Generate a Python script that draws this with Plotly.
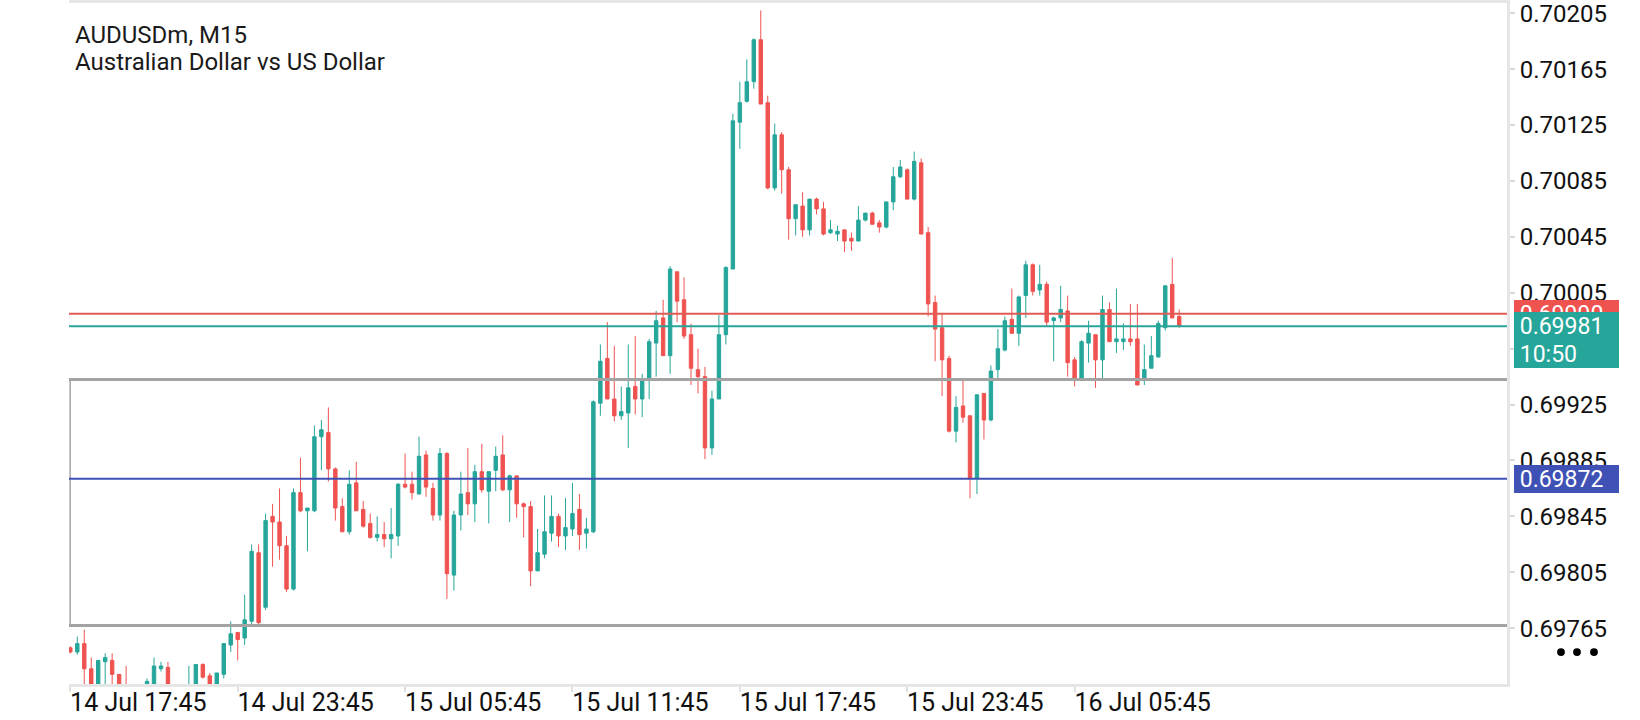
import pandas as pd
import plotly.graph_objects as go

# AUDUSDm M15 candles (bar 0 = 14 Jul 17:45)
opens = [
    0.69751, 0.69748, 0.69754, 0.69736, 0.69714, 0.69741, 0.69742, 0.69732, 0.69720, 0.69712,
    0.69707, 0.69714, 0.69722, 0.69736, 0.69737, 0.69716, 0.69710, 0.69714, 0.69722, 0.69739,
    0.69731, 0.69720, 0.69732, 0.69753, 0.69762, 0.69758, 0.69770, 0.69819, 0.69780, 0.69845,
    0.69841, 0.69824, 0.69793, 0.69862, 0.69849, 0.69849, 0.69902, 0.69905, 0.69879, 0.69852,
    0.69834, 0.69869, 0.69850, 0.69840, 0.69830, 0.69832, 0.69829, 0.69831, 0.69868, 0.69868,
    0.69861, 0.69889, 0.69865, 0.69846, 0.69890, 0.69803, 0.69846, 0.69862, 0.69854, 0.69877,
    0.69863, 0.69878, 0.69889, 0.69864, 0.69874, 0.69854, 0.69852, 0.69806, 0.69818, 0.69833,
    0.69845, 0.69831, 0.69836, 0.69850, 0.69833, 0.69834, 0.69926, 0.69958, 0.69929, 0.69917,
    0.69919, 0.69938, 0.69929, 0.69944, 0.69969, 0.69987, 0.69960, 0.70020, 0.70000, 0.69975,
    0.69950, 0.69945, 0.69894, 0.69929, 0.69975, 0.70022, 0.70127, 0.70142, 0.70156, 0.70186,
    0.70141, 0.70080, 0.70118, 0.70093, 0.70058, 0.70067, 0.70050, 0.70072, 0.70065, 0.70048,
    0.70047, 0.70050, 0.70044, 0.70042, 0.70057, 0.70062, 0.70055, 0.70052, 0.70070, 0.70088,
    0.70093, 0.70072, 0.70098, 0.70048, 0.69998, 0.69980, 0.69958, 0.69906, 0.69924, 0.69917,
    0.69872, 0.69933, 0.69914, 0.69950, 0.69964, 0.69986, 0.69976, 0.70003, 0.70025, 0.70007,
    0.70011, 0.69985, 0.69987, 0.69992, 0.69957, 0.69944, 0.69969, 0.69975, 0.69957, 0.69993,
    0.69970, 0.69970, 0.69972, 0.69972, 0.69943, 0.69951, 0.69959, 0.69980, 0.70011, 0.69988,
]
highs = [
    0.69752, 0.69759, 0.69764, 0.69744, 0.69742, 0.69747, 0.69747, 0.69732, 0.69738, 0.69720,
    0.69718, 0.69729, 0.69744, 0.69741, 0.69741, 0.69722, 0.69724, 0.69738, 0.69739, 0.69740,
    0.69733, 0.69733, 0.69754, 0.69770, 0.69762, 0.69789, 0.69825, 0.69825, 0.69847, 0.69854,
    0.69865, 0.69831, 0.69865, 0.69887, 0.69851, 0.69910, 0.69914, 0.69923, 0.69880, 0.69858,
    0.69878, 0.69884, 0.69856, 0.69847, 0.69845, 0.69841, 0.69851, 0.69869, 0.69890, 0.69877,
    0.69902, 0.69892, 0.69869, 0.69894, 0.69891, 0.69849, 0.69877, 0.69894, 0.69882, 0.69897,
    0.69877, 0.69895, 0.69903, 0.69875, 0.69874, 0.69855, 0.69856, 0.69836, 0.69860, 0.69860,
    0.69847, 0.69858, 0.69869, 0.69861, 0.69844, 0.69928, 0.69968, 0.69984, 0.69967, 0.69938,
    0.69968, 0.69974, 0.69947, 0.69972, 0.69992, 0.70000, 0.70024, 0.70020, 0.70016, 0.69983,
    0.69965, 0.69952, 0.69935, 0.69989, 0.70024, 0.70133, 0.70156, 0.70172, 0.70187, 0.70207,
    0.70146, 0.70126, 0.70120, 0.70095, 0.70068, 0.70077, 0.70072, 0.70073, 0.70070, 0.70057,
    0.70053, 0.70050, 0.70048, 0.70067, 0.70062, 0.70063, 0.70057, 0.70070, 0.70095, 0.70100,
    0.70094, 0.70106, 0.70101, 0.70052, 0.70003, 0.69990, 0.69960, 0.69931, 0.69942, 0.69917,
    0.69932, 0.69933, 0.69953, 0.69979, 0.69988, 0.70008, 0.70003, 0.70028, 0.70026, 0.70025,
    0.70013, 0.69988, 0.70010, 0.70003, 0.69959, 0.69971, 0.69985, 0.69975, 0.70003, 0.69998,
    0.70008, 0.69983, 0.69997, 0.69997, 0.69968, 0.69974, 0.69985, 0.70010, 0.70030, 0.69993,
]
lows = [
    0.69747, 0.69746, 0.69719, 0.69708, 0.69710, 0.69716, 0.69722, 0.69712, 0.69706, 0.69703,
    0.69700, 0.69710, 0.69718, 0.69734, 0.69712, 0.69706, 0.69704, 0.69710, 0.69718, 0.69729,
    0.69716, 0.69716, 0.69729, 0.69748, 0.69742, 0.69753, 0.69768, 0.69766, 0.69778, 0.69809,
    0.69814, 0.69791, 0.69792, 0.69848, 0.69820, 0.69848, 0.69878, 0.69870, 0.69842, 0.69834,
    0.69832, 0.69849, 0.69837, 0.69829, 0.69827, 0.69823, 0.69815, 0.69824, 0.69865, 0.69857,
    0.69861, 0.69859, 0.69842, 0.69842, 0.69786, 0.69792, 0.69835, 0.69846, 0.69841, 0.69862,
    0.69840, 0.69863, 0.69863, 0.69841, 0.69844, 0.69830, 0.69795, 0.69806, 0.69815, 0.69827,
    0.69823, 0.69821, 0.69831, 0.69821, 0.69822, 0.69833, 0.69917, 0.69929, 0.69913, 0.69914,
    0.69894, 0.69918, 0.69916, 0.69929, 0.69945, 0.69960, 0.69947, 0.69984, 0.69972, 0.69939,
    0.69933, 0.69886, 0.69889, 0.69929, 0.69968, 0.70022, 0.70108, 0.70141, 0.70151, 0.70140,
    0.70079, 0.70078, 0.70076, 0.70043, 0.70046, 0.70045, 0.70046, 0.70061, 0.70046, 0.70047,
    0.70042, 0.70034, 0.70035, 0.70042, 0.70056, 0.70054, 0.70048, 0.70051, 0.70064, 0.70087,
    0.70072, 0.70071, 0.70047, 0.69988, 0.69956, 0.69931, 0.69905, 0.69898, 0.69912, 0.69858,
    0.69861, 0.69900, 0.69913, 0.69944, 0.69963, 0.69976, 0.69967, 0.69987, 0.70003, 0.70003,
    0.69981, 0.69956, 0.69984, 0.69945, 0.69938, 0.69944, 0.69955, 0.69937, 0.69944, 0.69970,
    0.69962, 0.69964, 0.69967, 0.69939, 0.69939, 0.69951, 0.69959, 0.69978, 0.69987, 0.69980,
]
closes = [
    0.69748, 0.69754, 0.69736, 0.69712, 0.69742, 0.69744, 0.69732, 0.69716, 0.69712, 0.69707,
    0.69714, 0.69727, 0.69738, 0.69738, 0.69716, 0.69710, 0.69720, 0.69724, 0.69739, 0.69730,
    0.69720, 0.69733, 0.69754, 0.69761, 0.69757, 0.69771, 0.69820, 0.69769, 0.69842, 0.69841,
    0.69824, 0.69793, 0.69862, 0.69849, 0.69851, 0.69902, 0.69907, 0.69879, 0.69851, 0.69834,
    0.69868, 0.69849, 0.69838, 0.69830, 0.69832, 0.69829, 0.69832, 0.69868, 0.69866, 0.69862,
    0.69888, 0.69866, 0.69846, 0.69890, 0.69804, 0.69846, 0.69861, 0.69854, 0.69877, 0.69864,
    0.69877, 0.69888, 0.69864, 0.69874, 0.69854, 0.69852, 0.69806, 0.69819, 0.69834, 0.69845,
    0.69831, 0.69837, 0.69847, 0.69832, 0.69836, 0.69927, 0.69956, 0.69929, 0.69917, 0.69920,
    0.69937, 0.69929, 0.69942, 0.69970, 0.69985, 0.69960, 0.70022, 0.69999, 0.69974, 0.69951,
    0.69945, 0.69894, 0.69929, 0.69975, 0.70023, 0.70128, 0.70141, 0.70156, 0.70186, 0.70140,
    0.70080, 0.70118, 0.70093, 0.70058, 0.70068, 0.70050, 0.70072, 0.70065, 0.70047, 0.70050,
    0.70049, 0.70042, 0.70042, 0.70057, 0.70062, 0.70054, 0.70052, 0.70070, 0.70088, 0.70095,
    0.70072, 0.70099, 0.70047, 0.69997, 0.69979, 0.69957, 0.69906, 0.69923, 0.69916, 0.69872,
    0.69932, 0.69914, 0.69949, 0.69965, 0.69985, 0.69976, 0.70002, 0.70025, 0.70006, 0.70011,
    0.69984, 0.69987, 0.69993, 0.69955, 0.69944, 0.69970, 0.69976, 0.69957, 0.69993, 0.69970,
    0.69972, 0.69972, 0.69970, 0.69939, 0.69950, 0.69960, 0.69983, 0.70010, 0.69987, 0.69981,
]

first_bar = "2020-07-14 17:45"
times = pd.date_range(first_bar, periods=len(opens), freq="15min")

tick_times = ["2020-07-14 17:45", "2020-07-14 23:45", "2020-07-15 05:45", "2020-07-15 11:45",
              "2020-07-15 17:45", "2020-07-15 23:45", "2020-07-16 05:45"]
tick_labels = ["14 Jul 17:45", "14 Jul 23:45", "15 Jul 05:45", "15 Jul 11:45",
               "15 Jul 17:45", "15 Jul 23:45", "16 Jul 05:45"]
price_ticks = [0.69765, 0.69805, 0.69845, 0.69885, 0.69925, 0.69965,
               0.70005, 0.70045, 0.70085, 0.70125, 0.70165, 0.70205]

ask_price = 0.69990
bid_price = 0.69981
bar_timer = "10:50"
level_blue = 0.69872
box_top = 0.69943
box_bottom = 0.69767

TEAL = "#26a69a"
RED = "#ef5350"
BLUE = "#3f51b5"
GRAY = "#a3a3a3"
FRAME = "#e6e6e6"
FONT = "Roboto"

fig = go.Figure(go.Candlestick(
    x=times, open=opens, high=highs, low=lows, close=closes,
    increasing=dict(line=dict(color=TEAL, width=1), fillcolor=TEAL),
    decreasing=dict(line=dict(color=RED, width=1), fillcolor=RED),
    hoverinfo="skip",
))


def hline(y, color, width):
    return dict(type="line", xref="paper", x0=0, x1=1, yref="y", y0=y, y1=y,
                line=dict(color=color, width=width), layer="above")


def price_box(y, color, text, shift=0):
    # coloured price tag on the right scale; later tags cover earlier ones
    return dict(text="\u00a0" + text, xref="paper", x=1, xanchor="left", xshift=7,
                yref="y", y=y, yanchor="middle", yshift=shift,
                width=105, height=28, align="left", valign="middle",
                bgcolor=color, borderpad=0, borderwidth=0, showarrow=False,
                font=dict(family=FONT, size=23, color="white"))


shapes = [
    hline(box_top, GRAY, 3),
    hline(box_bottom, GRAY, 3),
    dict(type="line", xref="paper", x0=0.0008, x1=0.0008, yref="y", y0=box_bottom, y1=box_top,
         line=dict(color=GRAY, width=1.5), layer="above"),
    hline(level_blue, BLUE, 2),
    hline(ask_price, "#e05a56", 2),
    hline(bid_price, TEAL, 2),
]
# the "more" dots under the price scale
for cx in (54, 70, 87):
    shapes.append(dict(type="circle", xref="paper", xsizemode="pixel", xanchor=1,
                       x0=cx - 3.9, x1=cx + 3.9, yref="paper", ysizemode="pixel",
                       yanchor=0, y0=28, y1=35.8, fillcolor="black", line=dict(width=0)))

annotations = [
    dict(text="AUDUSDm, M15", xref="paper", yref="paper", x=0, y=1, xshift=4, yshift=-32,
         xanchor="left", yanchor="middle", showarrow=False,
         font=dict(family=FONT, size=24, color="#1a1a1a")),
    dict(text="Australian Dollar vs US Dollar", xref="paper", yref="paper", x=0, y=1,
         xshift=4, yshift=-59, xanchor="left", yanchor="middle", showarrow=False,
         font=dict(family=FONT, size=24, color="#1a1a1a")),
    price_box(ask_price, RED, f"{ask_price:.5f}"),
    price_box(bid_price, TEAL, f"{bid_price:.5f}"),
    price_box(bid_price, TEAL, bar_timer, shift=-28),
    price_box(level_blue, BLUE, f"{level_blue:.5f}"),
]

fig.update_layout(
    width=1640, height=720,
    margin=dict(l=69, r=133, t=3, b=36, autoexpand=False),
    paper_bgcolor="white", plot_bgcolor="white",
    showlegend=False,
    shapes=shapes,
    annotations=annotations,
    xaxis=dict(
        type="date", range=["2020-07-14 17:42:10", "2020-07-16 21:15"],
        rangeslider=dict(visible=False), automargin=False,
        tickvals=tick_times, ticktext=tick_labels, ticklabelshift=68, ticklabelstandoff=-11,
        ticklabeloverflow="allow",
        ticks="outside", ticklen=5, tickwidth=2, tickcolor="#e0e0e0",
        showline=True, linecolor=FRAME, linewidth=3, mirror=True,
        showgrid=False, zeroline=False,
        tickfont=dict(family=FONT, size=25, color="#111111"),
    ),
    yaxis=dict(
        side="right", range=[0.697251, 0.702123], automargin=False,
        tickvals=price_ticks, ticktext=[f"{p:.5f}" for p in price_ticks],
        ticklabeloverflow="allow",
        ticks="outside", ticklen=5, tickwidth=1.5, tickcolor="#d8d8d8",
        showline=True, linecolor=FRAME, linewidth=3,
        showgrid=False, zeroline=False,
        tickfont=dict(family=FONT, size=24, color="#111111"),
    ),
)

# drop the browser's default 8px page margin so the figure fills the window exactly
fig.write_html("out.html", config={"displayModeBar": False},
               post_script="document.body.style.margin = '0';")
